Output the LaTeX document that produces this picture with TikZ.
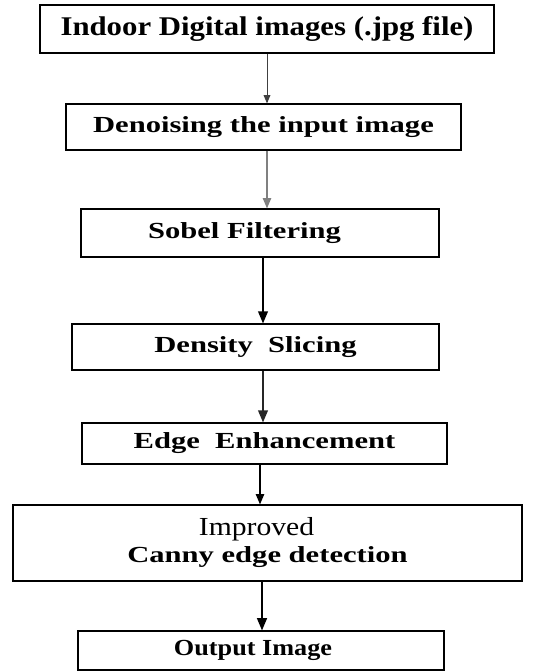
\documentclass[tikz,border=0pt]{standalone}
\usepackage{xcolor}
\usepackage{fontspec}
\setmainfont{Liberation Serif}
\newfontfamily\titlefont[FakeStretch=1.14]{Liberation Serif}
\newfontfamily\stepfont[FakeStretch=1.33]{Liberation Serif}
\newfontfamily\midfont[FakeStretch=1.14]{Liberation Serif}
\usepackage{tikz}
\usetikzlibrary{shapes,arrows,positioning}

\begin{document}
\begin{tikzpicture}[x=1pt, y=-1pt,
    stage/.style={draw, rectangle, line width=1.3pt, inner sep=0pt, align=center},
    steptext/.style={font=\stepfont\bfseries\fontsize{23}{27}\selectfont},
    flow/.style={-triangle 45, line width=1.4pt}]
        \useasboundingbox (0,0) rectangle (544,672);
        % Nodes
        \node[stage, minimum width=454pt, minimum height=48pt, font=\titlefont\bfseries\fontsize{27}{30}\selectfont] (indoor) at (267,29) {Indoor Digital images (.jpg file)};
        \node[stage, steptext, minimum width=395pt, minimum height=46pt] (denoise) at (263.5,127) {Denoising the input image};
        \node[stage, steptext, minimum width=358pt, minimum height=48pt] (sobel) at (260,233) {Sobel Filtering\hspace*{31pt}};
        \node[stage, steptext, minimum width=367pt, minimum height=46pt] (density) at (255.5,347) {Density~ Slicing};
        \node[stage, steptext, minimum width=365pt, minimum height=41pt] (edge) at (264.5,443.5) {Edge~ Enhancement};
        \node[stage, minimum width=509pt, minimum height=76pt, font=\fontsize{26}{27}\selectfont] (canny) at (267.5,543) {\midfont Improved\hspace*{22pt}\\ \stepfont\bfseries\fontsize{23}{27}\selectfont Canny edge detection};
        \node[stage, minimum width=366pt, minimum height=39pt, font=\midfont\bfseries\fontsize{23}{27}\selectfont] (output) at (261,650.5) {Output Image\hspace*{16pt}};

        % Arrows
        \draw[flow, line width=0.9pt, black!75] (indoor.south -| 267,0) -- (denoise.north -| 267,0);
        \draw[flow, black!50] (denoise.south -| 267,0) -- (sobel.north -| 267,0);
        \draw[flow, line width=1.8pt] (sobel.south -| 263,0) -- (density.north -| 263,0);
        \draw[flow, line width=1.8pt, black!85] (density.south -| 263,0) -- (edge.north -| 263,0);
        \draw[flow] (edge.south -| 260,0) -- (canny.north -| 260,0);
        \draw[flow, line width=1.9pt] (canny.south -| 262,0) -- (output.north -| 262,0);
    \end{tikzpicture}
\end{document}
